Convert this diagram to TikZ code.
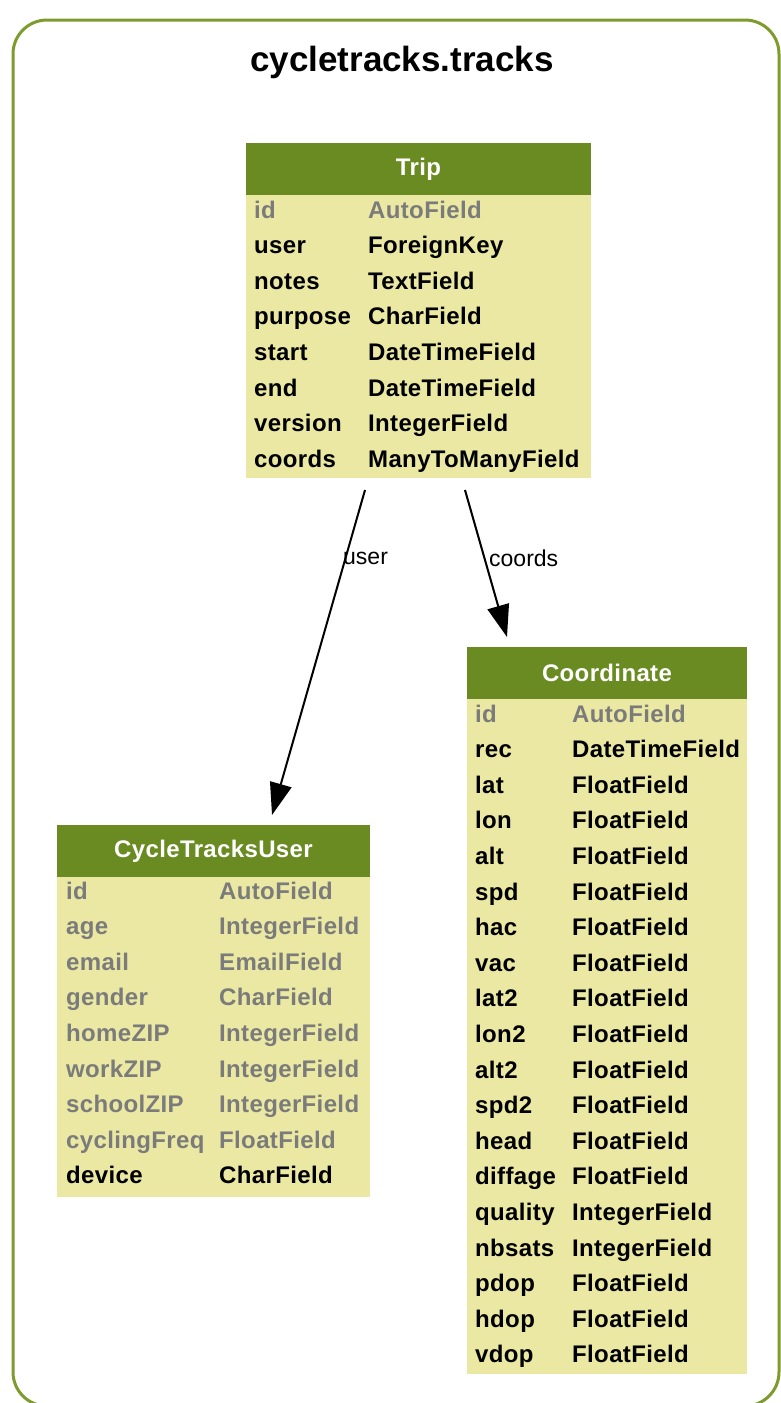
\documentclass[tikz,border=0pt]{standalone}
\usepackage{fontspec}
\setmainfont{Liberation Sans}
\usetikzlibrary{arrows.meta}
\definecolor{hdr}{HTML}{698B22}
\definecolor{bodyc}{HTML}{EAE8A2}
\definecolor{frm}{HTML}{7E9B2E}
\definecolor{gry}{HTML}{7B7B7B}
\newfontfamily\fldfont[LetterSpace=1.5]{Liberation Sans}
\begin{document}
\begin{tikzpicture}[x=1pt,y=-1pt,
  tbl/.style={draw=none,fill=bodyc,inner sep=0pt,outer sep=0pt,anchor=north west},
  hd/.style={fill=hdr,inner sep=0pt,outer sep=0pt,anchor=north west},
  hdtext/.style={text=white,inner sep=0pt,font=\fldfont\fontsize{24}{24}\selectfont\bfseries},
  fld/.style={anchor=base west,inner sep=0pt,font=\fldfont\fontsize{24}{24}\selectfont\bfseries},
  pk/.style={fld,text=gry},
  arr/.style={line width=2pt,-{Triangle[length=32pt,width=22pt]}},
  lbl/.style={anchor=west,inner sep=0pt,font=\fontsize{23}{23}\selectfont}
]
\useasboundingbox (0,0) rectangle (780,1403);
\fill[white] (0,0) rectangle (780,1403);
\draw[frm,line width=3pt,rounded corners=34pt] (13,20) rectangle (779,1406);
\node[font=\fontsize{35}{35}\selectfont\bfseries,inner sep=0pt] (title) at (402,62) {cycletracks.tracks};

% Trip
\node[tbl,minimum width=345pt,minimum height=335pt] (trip) at (246,143) {};
\node[hd,minimum width=345pt,minimum height=52pt] (triph) at (246,143) {};
\node[hdtext] (tript) at (triph.center) {Trip};
\foreach \n/\t/\s [count=\i from 0] in {id/AutoField/pk,user/ForeignKey/fld,notes/TextField/fld,purpose/CharField/fld,start/DateTimeField/fld,end/DateTimeField/fld,version/IntegerField/fld,coords/ManyToManyField/fld}{
  \node[\s] (tripn\i) at (254,218+35.6*\i) {\n};
  \node[\s] (tript\i) at (368,218+35.6*\i) {\t};
}

% CycleTracksUser
\node[tbl,minimum width=313pt,minimum height=372pt] (ctu) at (57,825) {};
\node[hd,minimum width=313pt,minimum height=52pt] (ctuh) at (57,825) {};
\node[hdtext] (ctut) at (ctuh.center) {CycleTracksUser};
\foreach \n/\t/\s [count=\i from 0] in {id/AutoField/pk,age/IntegerField/pk,email/EmailField/pk,gender/CharField/pk,homeZIP/IntegerField/pk,workZIP/IntegerField/pk,schoolZIP/IntegerField/pk,cyclingFreq/FloatField/pk,device/CharField/fld}{
  \node[\s] (ctun\i) at (66,899+35.6*\i) {\n};
  \node[\s] (ctut\i) at (219,899+35.6*\i) {\t};
}

% Coordinate
\node[tbl,minimum width=280pt,minimum height=727pt] (coord) at (467,647) {};
\node[hd,minimum width=280pt,minimum height=52pt] (coordh) at (467,647) {};
\node[hdtext] (coordt) at (coordh.center) {Coordinate};
\foreach \n/\t/\s [count=\i from 0] in {id/AutoField/pk,rec/DateTimeField/fld,lat/FloatField/fld,lon/FloatField/fld,alt/FloatField/fld,spd/FloatField/fld,hac/FloatField/fld,vac/FloatField/fld,lat2/FloatField/fld,lon2/FloatField/fld,alt2/FloatField/fld,spd2/FloatField/fld,head/FloatField/fld,diffage/FloatField/fld,quality/IntegerField/fld,nbsats/IntegerField/fld,pdop/FloatField/fld,hdop/FloatField/fld,vdop/FloatField/fld}{
  \node[\s] (coordn\i) at (475,722+35.6*\i) {\n};
  \node[\s] (coordt\i) at (572,722+35.6*\i) {\t};
}

% connectors
\draw[arr] ([shift={(-53.5,12)}]trip.south) -- ([shift={(58.5,-10)}]ctu.north);
\draw[arr] ([shift={(46.5,12)}]trip.south) -- ([shift={(-100,-10)}]coord.north);
\node[lbl] (luser) at (343,558) {user};
\node[lbl] (lcoords) at (489,558) {coords};
\end{tikzpicture}
\end{document}
